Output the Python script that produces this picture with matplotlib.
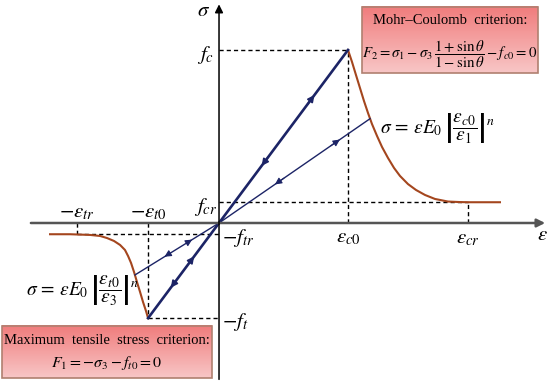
# concrete damage model sketch: loading / unloading paths with softening branches
import matplotlib
matplotlib.use("Agg")
import matplotlib.pyplot as plt
import numpy as np
from matplotlib.colors import LinearSegmentedColormap
from matplotlib.patches import Rectangle

plt.rcParams["mathtext.fontset"] = "stix"
plt.rcParams["font.family"] = ["Liberation Serif", "DejaVu Serif"]

# ---------- data (normalised strain / stress units) ----------
eps_c0, f_c = 1.00, 1.00
eps_cr, f_cr = 1.93, 0.12
eps_t0, f_t = 0.55, 0.55
eps_tr, f_tr = 1.10, 0.065

# compression softening branch
comp_eps = [1.000, 1.031, 1.062, 1.093, 1.124, 1.155, 1.186, 1.225, 1.264, 1.310, 1.357,
            1.403, 1.465, 1.527, 1.597, 1.674, 1.775, 1.868, 1.930, 2.178]
comp_sig = [1.000, 0.931, 0.855, 0.780, 0.705, 0.636, 0.572, 0.503, 0.439, 0.376, 0.318,
            0.272, 0.225, 0.191, 0.162, 0.139, 0.124, 0.121, 0.120, 0.120]

# tension softening branch
tens_eps = [-1.310, -1.155, -1.000, -0.922, -0.868, -0.814, -0.767, -0.729, -0.705,
            -0.682, -0.659, -0.636, -0.612, -0.589, -0.566, -0.550]
tens_sig = [-0.065, -0.065, -0.069, -0.075, -0.087, -0.104, -0.127, -0.156, -0.191,
            -0.231, -0.283, -0.341, -0.399, -0.457, -0.509, -0.550]

# unloading targets on the softening branches
unl_comp = (1.171, 0.603)
unl_tens = (-0.651, -0.300)

# ---------- figure ----------
fig = plt.figure(figsize=(5.5, 3.87), dpi=100)
ax = fig.add_axes([0, 0, 1, 1])
ax.axis("off")

BROWN = "#a4461e"
NAVY = "#1c2466"

# axes with arrows
ax.annotate("", xy=(2.55, 0), xytext=(-1.48, 0),
            arrowprops=dict(arrowstyle="-|>", color="#555555", lw=1.8, mutation_scale=12))
ax.annotate("", xy=(0, 1.28), xytext=(0, -0.92),
            arrowprops=dict(arrowstyle="-|>", color="black", lw=1.1, mutation_scale=12))

# dashed guides
dash = dict(color="black", lw=1.0, ls=(0, (3, 2.2)))
ax.plot([0, eps_c0], [f_c, f_c], **dash)
ax.plot([eps_c0, eps_c0], [0, f_c], **dash)
ax.plot([0, eps_cr], [f_cr, f_cr], **dash)
ax.plot([eps_cr, eps_cr], [0, f_cr], **dash)
ax.plot([-eps_t0, -eps_t0], [0, -f_t], **dash)
ax.plot([-eps_t0, 0], [-f_t, -f_t], **dash)
ax.plot([-eps_tr, 0], [-f_tr, -f_tr], **dash)
ax.plot([-eps_tr, -eps_tr], [0, -f_tr], **dash)

# softening branches
ax.plot(comp_eps, comp_sig, color=BROWN, lw=1.5, solid_joinstyle="round")
ax.plot(tens_eps, tens_sig, color=BROWN, lw=1.5, solid_joinstyle="round")

# loading / unloading lines
ax.plot([0, eps_c0], [0, f_c], color=NAVY, lw=1.9)
ax.plot([0, -eps_t0], [0, -f_t], color=NAVY, lw=1.9)
ax.plot([0, unl_comp[0]], [0, unl_comp[1]], color=NAVY, lw=1.0)
ax.plot([0, unl_tens[0]], [0, unl_tens[1]], color=NAVY, lw=1.0)


def mid_arrow(end, frac, outward, lw):
    p = np.array(end) * frac
    d = np.array(end) * 0.03 * (1 if outward else -1)
    ax.annotate("", xy=p + d, xytext=p - d,
                arrowprops=dict(arrowstyle="-|>", color=NAVY, lw=lw, mutation_scale=10,
                                shrinkA=0, shrinkB=0))


mid_arrow((eps_c0, f_c), 0.71, True, 1.2)
mid_arrow((eps_c0, f_c), 0.36, False, 1.2)
mid_arrow(unl_comp, 0.77, True, 0.8)
mid_arrow(unl_comp, 0.40, False, 0.8)
mid_arrow((-eps_t0, -f_t), 0.38, False, 1.2)
mid_arrow((-eps_t0, -f_t), 0.65, True, 1.2)
mid_arrow(unl_tens, 0.35, False, 0.8)
mid_arrow(unl_tens, 0.62, True, 0.8)

# axis labels / tick labels
fs = 15
ax.text(-0.12, 1.22, r"$\sigma$", fontsize=fs, ha="center", va="center")
ax.text(2.51, -0.07, r"$\varepsilon$", fontsize=fs, ha="center", va="center")
ax.text(-0.04, 0.97, r"$f_c$", fontsize=fs, ha="right", va="center")
ax.text(-0.01, 0.09, r"$f_{cr}$", fontsize=fs, ha="right", va="center")
ax.text(0.02, -0.085, r"$-f_{tr}$", fontsize=fs, ha="left", va="center")
ax.text(0.02, -0.57, r"$-f_t$", fontsize=fs, ha="left", va="center")
ax.text(-eps_tr, 0.06, r"$-\varepsilon_{tr}$", fontsize=fs, ha="center", va="center")
ax.text(-eps_t0, 0.06, r"$-\varepsilon_{t0}$", fontsize=fs, ha="center", va="center")
ax.text(eps_c0, -0.085, r"$\varepsilon_{c0}$", fontsize=fs, ha="center", va="center")
ax.text(eps_cr, -0.09, r"$\varepsilon_{cr}$", fontsize=fs, ha="center", va="center")

# constitutive formulas
ax.text(1.25, 0.55,
        r"$\sigma\,=\,\varepsilon E_0\,\left|\dfrac{\varepsilon_{c0}}{\varepsilon_1}\right|^n$",
        fontsize=14, ha="left", va="center")
ax.text(-1.50, -0.39,
        r"$\sigma\,=\,\varepsilon E_0\,\left|\dfrac{\varepsilon_{t0}}{\varepsilon_3}\right|^n$",
        fontsize=14, ha="left", va="center")

# criterion boxes with a soft red gradient
cmap = LinearSegmentedColormap.from_list("boxred", ["#f07c7c", "#f8c6c6"])
grad = np.linspace(0, 1, 64).reshape(-1, 1)


def crit_box(x0, x1, y0, y1, lines, line_y, xc, sizes):
    ax.imshow(grad, extent=[x0, x1, y0, y1], aspect="auto", cmap=cmap, zorder=3)
    ax.add_patch(Rectangle((x0, y0), x1 - x0, y1 - y0, fill=False,
                           ec="#b08070", lw=1.2, zorder=4))
    for txt, yy, sz in zip(lines, line_y, sizes):
        ax.text(xc, yy, txt, fontsize=sz, ha="center", va="center", zorder=5)


crit_box(1.109, 2.473, 0.867, 1.249,
         ["Mohr\u2013Coulomb  criterion:",
          r"$F_2=\sigma_1-\sigma_3\,\dfrac{1+\sin\theta}{1-\sin\theta}-f_{c0}=0$"],
         [1.17, 0.975], 1.79, [10.5, 10.7])
crit_box(-1.682, -0.054, -0.896, -0.595,
         ["Maximum  tensile  stress  criterion:",
          r"$F_1=-\sigma_3-f_{t0}=0$"],
         [-0.68, -0.81], -0.868, [10.5, 11.5])

ax.set_xlim(-1.698, 2.566)
ax.set_ylim(-0.948, 1.289)

fig.savefig("out.png", dpi=100)
